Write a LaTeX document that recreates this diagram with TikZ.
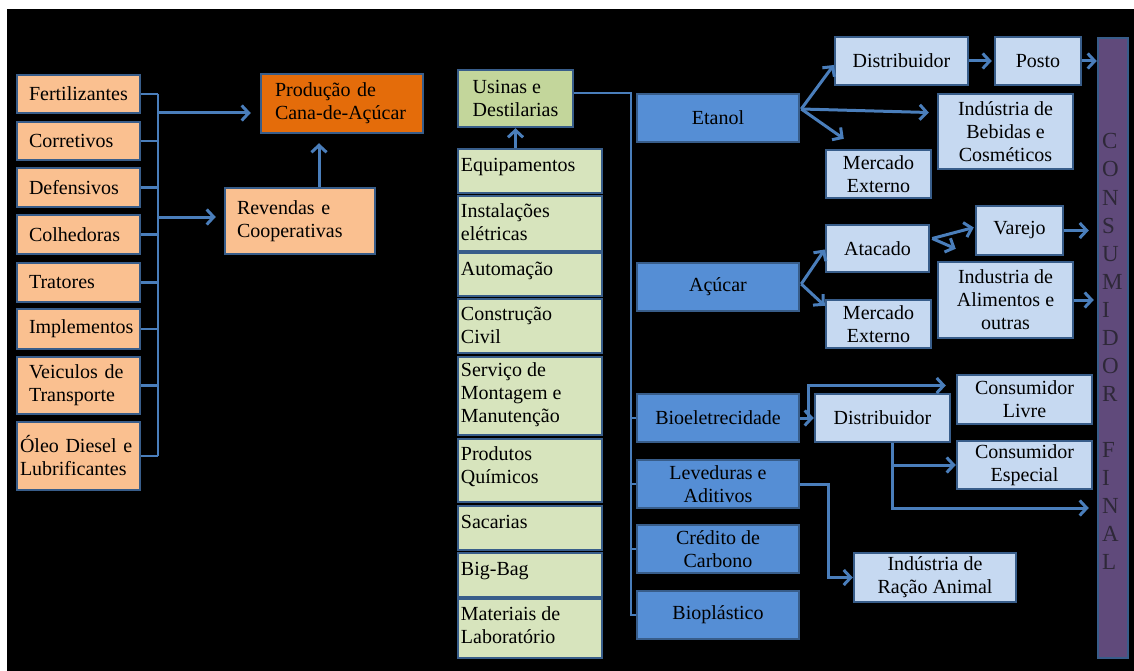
\documentclass[tikz,border=0pt]{standalone}
\usepackage{fontspec}
\setmainfont{Liberation Serif}[Ligatures=TeX]
\newfontfamily\tnr{Liberation Serif}
\usetikzlibrary{arrows.meta,calc}
\definecolor{bord}{HTML}{385D8A}
\definecolor{conn}{HTML}{4A7EBB}
\definecolor{orng}{HTML}{FAC090}
\definecolor{dorng}{HTML}{E46C0A}
\definecolor{grn}{HTML}{D7E4BD}
\definecolor{dgrn}{HTML}{C3D69B}
\definecolor{blu}{HTML}{558ED5}
\definecolor{lblu}{HTML}{C6D9F1}
\definecolor{purp}{HTML}{604A7B}
\definecolor{lettr}{HTML}{2E2838}
\pgfdeclarelayer{bg}
\pgfsetlayers{bg,main}
\begin{document}
\begin{tikzpicture}[x=1pt,y=-1pt,
  txt/.style={font=\tnr\fontsize{20}{23}\selectfont, text=black},
  box/.style={txt, draw=bord, line width=2.5pt, inner sep=0pt},
  obox/.style={box, fill=orng, inner xsep=12pt, text width=99pt, align=left, minimum height=#1},
  gbox/.style={box, fill=grn, minimum width=144pt, minimum height=#1},
  gtxt/.style={txt, anchor=north west, inner sep=0pt, align=left},
  bbox/.style={box, fill=blu, align=center, minimum width=162pt, minimum height=48pt},
  lbox/.style={box, fill=lblu, align=center},
  wire/.style={draw=conn, line width=2.5pt},
  thinwire/.style={draw=conn, line width=2pt},
  arr/.style={draw=conn, line width=3pt, -{Straight Barb[length=7pt,width=15pt]}},
  letter/.style={font=\tnr\fontsize{23}{23}\selectfont, text=lettr, anchor=base west, inner sep=0pt}
]
\useasboundingbox (0,0) rectangle (1134,671);
\fill[white] (0,0) rectangle (1134,671);
\fill[black] (7,9) rectangle (1134,671);

% ---------- left column ----------
\node[obox=38pt] (fert) at (78.5,94) {Fertilizantes};
\node[obox=38pt] (corr) at (78.5,141) {Corretivos};
\node[obox=39pt] (def) at (78.5,187.5) {Defensivos};
\node[obox=39pt] (colh) at (78.5,234.5) {Colhedoras};
\node[obox=39pt] (trat) at (78.5,282.5) {Tratores};
\node[obox=40pt] (impl) at (78.5,329) {Implementos};
\node[obox=57pt] (veic) at (78.5,385.5) {Veiculos de\\Transporte};
\node[box, fill=orng, inner xsep=3pt, text width=117pt, align=left, minimum height=68pt] (oleo) at (78.5,456) {Óleo Diesel e\\Lubrificantes};

\node[box, fill=dorng, inner xsep=14pt, text width=134pt, align=left, minimum height=59pt] (prod) at (342,103.5) {Produção de\\Cana-de-Açúcar};
\node[box, fill=orng, inner xsep=12pt, text width=126pt, align=left, minimum height=66pt] (rev) at (300,221) {Revendas e\\Cooperativas};

\coordinate (bus) at (158,94);
\foreach \n in {fert,corr,def,colh,trat,impl,veic,oleo}
  \draw[wire] (\n.east) -- (\n.east -| bus);
\draw[wire] (bus |- fert.east) -- (bus |- oleo.east);
\coordinate (b1) at (158,113);
\coordinate (b2) at (158,217);
\draw[arr, shorten >=9pt] (b1) -- (b1 -| prod.west);
\draw[arr, shorten >=8pt] (b2) -- (b2 -| rev.west);
\coordinate (ru) at ($(rev.north)+(19,0)$);
\draw[arr, shorten >=9pt] (ru) -- (ru |- prod.south);

% ---------- middle column ----------
\node[box, fill=dgrn, align=left, minimum width=115pt, minimum height=57pt] (usinas) at (515.5,98.5) {Usinas e\\Destilarias};
\node[gbox=44pt] (eq) at (530,171) {};
\node[gbox=55pt] (inst) at (530,223.5) {};
\node[gbox=43pt] (auto) at (530,274.5) {};
\node[gbox=54pt] (constr) at (530,326) {};
\node[gbox=78pt] (serv) at (530,396) {};
\node[gbox=63pt] (quim) at (530,470.5) {};
\node[gbox=44pt] (sac) at (530,528) {};
\node[gbox=44pt] (big) at (530,575) {};
\node[gbox=59pt] (mat) at (530,628.5) {};
\node[gtxt] (teq) at ($(eq.north west)+(4,7)$) {\strut Equipamentos};
\node[gtxt] (tinst) at ($(inst.north west)+(4,6)$) {\strut Instalações\\elétricas};
\node[gtxt] (tauto) at ($(auto.north west)+(4,7)$) {\strut Automação};
\node[gtxt] (tconstr) at ($(constr.north west)+(4,6)$) {\strut Construção\\Civil};
\node[gtxt] (tserv) at ($(serv.north west)+(4,4)$) {\strut Serviço de\\Montagem e\\Manutenção};
\node[gtxt] (tquim) at ($(quim.north west)+(4,6)$) {\strut Produtos\\Químicos};
\node[gtxt] (tsac) at ($(sac.north west)+(4,7)$) {\strut Sacarias};
\node[gtxt] (tbig) at ($(big.north west)+(4,7)$) {\strut Big-Bag};
\node[gtxt] (tmat) at ($(mat.north west)+(4,6)$) {\strut Materiais de\\Laboratório};

\begin{pgfonlayer}{bg}
  \draw[thinwire] (usinas.south |- mat.north) -- (usinas.south |- eq.south);
\end{pgfonlayer}
\draw[arr] (usinas.south |- eq.north) -- (usinas.south);

% ---------- products ----------
\node[bbox] (etanol) at (718,118) {Etanol};
\node[bbox] (acucar) at (718,287) {Açúcar};
\node[bbox] (bio) at (718,418) {Bioeletrecidade};
\node[bbox] (lev) at (718,484) {Leveduras e\\Aditivos};
\node[bbox] (cred) at (718,549) {Crédito de\\Carbono};
\node[bbox] (biop) at (718,615) {Bioplástico};

\coordinate (t0) at ($(usinas.east)+(57,-5)$);
\draw[thinwire] ($(usinas.east)+(0,-5)$) -- (t0) -- (t0 |- biop.west) -- (biop.west);
\foreach \n in {bio,lev,cred}
  \draw[thinwire] (t0 |- \n.west) -- (\n.west);

% ---------- right side ----------
\node[lbox, minimum width=133pt, minimum height=48pt] (dist1) at (901.5,61) {Distribuidor};
\node[lbox, minimum width=86pt, minimum height=48pt] (posto) at (1038,61) {Posto};
\node[lbox, minimum width=135pt, minimum height=75pt] (beb) at (1005.5,131.5) {Indústria de\\Bebidas e\\Cosméticos};
\node[lbox, minimum width=105pt, minimum height=48pt] (merc1) at (878.5,174) {Mercado\\Externo};
\node[lbox, minimum width=87pt, minimum height=49pt] (varejo) at (1019.5,230.5) {Varejo};
\node[lbox, minimum width=103pt, minimum height=47pt] (atac) at (877.5,248.5) {Atacado};
\node[lbox, minimum width=135pt, minimum height=76pt] (alim) at (1005.5,300) {Industria de\\Alimentos e\\outras};
\node[lbox, minimum width=105pt, minimum height=48pt] (merc2) at (878.5,324) {Mercado\\Externo};
\node[lbox, minimum width=135pt, minimum height=48pt] (dist2) at (882.5,418) {Distribuidor};
\node[lbox, minimum width=135pt, minimum height=49pt] (livre) at (1024.5,399.5) {Consumidor\\Livre};
\node[lbox, minimum width=135pt, minimum height=48pt] (esp) at (1024.5,465) {Consumidor\\Especial};
\node[lbox, minimum width=162pt, minimum height=49pt] (racao) at (935,577.5) {Indústria de\\Ração Animal};
\node[box, fill=purp, minimum width=30pt, minimum height=620pt] (bar) at (1113,348) {};
\foreach \ch/\k in {C/0,O/1,N/2,S/3,U/4,M/5,I/6,D/7,O/8,R/9,F/11,I/12,N/13,A/14,L/15}
  \node[letter] (let\k) at (1102,149+28*\k) {\ch};

% etanol
\coordinate (e1) at ($(etanol.east)+(1,-9)$);
\draw[arr] (e1) -- ($(dist1.west)+(0,4)$);
\draw[arr] (e1) -- ($(beb.west)+(-8,-19)$);
\draw[arr] (e1) -- ($(merc1.north west)+(19,-10)$);
\draw[arr, shorten >=2pt] (dist1.east) -- (posto.west);
\draw[arr] (posto.east) -- (posto.east -| bar.west);
% acucar
\coordinate (a1) at ($(acucar.east)+(1,-3)$);
\draw[arr] (a1) -- ($(atac.west)+(0,1)$);
\draw[arr] (a1) -- ($(merc2.north west)+(0,7)$);
\coordinate (at1) at ($(atac.east)+(2,-10)$);
\draw[arr] (at1) -- ($(varejo.west)+(-1,-3)$);
\draw[arr] (at1) -- ($(alim.north west)+(19,-12)$);
\draw[arr, shorten >=8pt] (varejo.east) -- (varejo.east -| bar.west);
\draw[arr, shorten >=3pt] (alim.east) -- (alim.east -| bar.west);
% bio
\draw[arr] (bio.east) -- (dist2.west);
\draw[arr] ($(bio.east)+(8,0)$) |- ($(livre.west)+(-10,-14)$);
\coordinate (d2b) at ($(dist2.south)+(10,0)$);
\draw[arr] (d2b) |- (esp.west);
\draw[arr] (d2b) |- ($(bar.west)+(-8,160)$);
% leveduras
\draw[arr] (lev.east) -- ++(28,0) |- (racao.west);
\end{tikzpicture}
\end{document}
